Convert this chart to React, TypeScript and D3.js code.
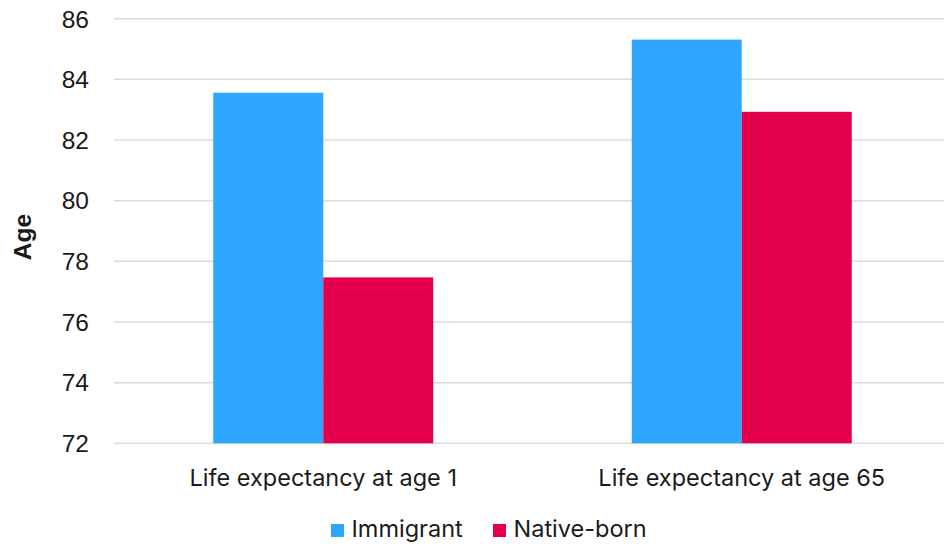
import React from "react";
import * as d3 from "d3";

const categories = ["Life expectancy at age 1", "Life expectancy at age 65"];
const seriesNames = ["Immigrant", "Native-born"];
const immigrant = [83.56, 85.31];
const nativeBorn = [77.47, 82.93];
const yTicks = [72, 74, 76, 78, 80, 82, 84, 86];
const colors = ["#2EA6FF", "#E4004A"];

const W = 944;
const H = 546;

export default function App() {
  const left = 114;
  const right = 951;
  const top = 18.7;
  const bottom = 443.3;

  const x = d3.scaleBand<string>().domain(categories).range([left, right]).paddingInner(0).paddingOuter(0);
  const inner = d3.scaleBand<string>().domain(seriesNames).range([0, 220]);
  const y = d3.scaleLinear().domain([72, 86]).range([bottom, top]);

  const series = [immigrant, nativeBorn];

  return (
    <svg width={W} height={H} style={{ position: "absolute", left: 0, top: 0, background: "#fff" }}>
      <g>
        {yTicks.map((t) => (
          <g key={t}>
            <line x1={left} x2={W} y1={y(t)} y2={y(t)} stroke="#dcdcdc" strokeWidth={1.5} />
            <text
              x={89}
              y={y(t)}
              dy="0.36em"
              textAnchor="end"
              fontFamily="Liberation Sans, Arial, sans-serif"
              fontSize={24.5}
              fill="#1a1a1a"
            >
              {t}
            </text>
          </g>
        ))}
      </g>
      <text
        transform={`translate(30.5,237) rotate(-90)`}
        textAnchor="middle"
        fontFamily="Liberation Sans, Arial, sans-serif"
        fontWeight="bold"
        fontSize={24.5}
        fill="#1a1a1a"
      >
        Age
      </text>
      {categories.map((c, ci) => {
        const cx = (x(c) as number) + x.bandwidth() / 2;
        const gx = cx - 110;
        return (
          <g key={c}>
            {seriesNames.map((s, si) => {
              const v = series[si][ci];
              return (
                <rect
                  key={s}
                  x={gx + (inner(s) as number)}
                  y={y(v)}
                  width={inner.bandwidth()}
                  height={y(72) - y(v)}
                  fill={colors[si]}
                />
              );
            })}
            <text
              x={cx}
              y={485.5}
              textAnchor="middle"
              fontFamily="Inter, sans-serif"
              fontSize={23.5}
              fill="#1a1a1a"
            >
              {c}
            </text>
          </g>
        );
      })}
      <g>
        {seriesNames.map((s, si) => {
          const lx = si === 0 ? 331 : 493;
          return (
            <g key={s}>
              <rect x={lx} y={524} width={13} height={13} fill={colors[si]} />
              <text x={lx + 20.5} y={537} fontFamily="Inter, sans-serif" fontSize={23.5} fill="#1a1a1a">
                {s}
              </text>
            </g>
          );
        })}
      </g>
    </svg>
  );
}
